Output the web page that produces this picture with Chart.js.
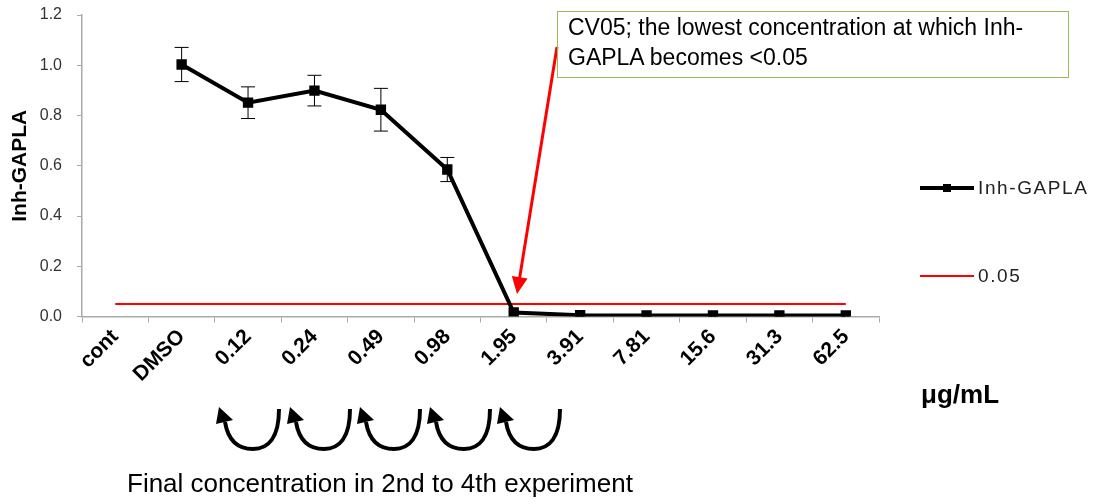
<!DOCTYPE html>
<html>
<head>
<meta charset="utf-8">
<script src="https://cdn.jsdelivr.net/npm/chart.js@4/dist/chart.umd.min.js"></script>
<style>
  html, body { margin: 0; padding: 0; background: #fff; }
  #wrap { position: relative; width: 1093px; height: 504px; font-family: "Liberation Sans", Arial, sans-serif; }
  #chart { position: absolute; left: 0; top: 0; }
  .note { position: absolute; left: 557px; top: 11px; width: 512px; height: 67px; border: 1.5px solid #9bbb59;
          box-sizing: border-box; padding: 0 0 0 10px; font-size: 23px; line-height: 30px; color: #000; }
  .leg { position: absolute; left: 920px; height: 24px; font-size: 19px; color: #222; letter-spacing: 1.6px; }
  .leg .ln { position: absolute; left: 0; top: 11px; width: 54px; }
  .leg .tx { position: absolute; left: 58px; top: 0; white-space: nowrap; line-height: 24px; }
  .unit { position: absolute; left: 921px; top: 379px; font-size: 26px; font-weight: bold; color: #000; }
  .foot { position: absolute; left: 127px; top: 468px; font-size: 26px; color: #000; white-space: nowrap; }
</style>
</head>
<body>
<div id="wrap">
  <canvas id="chart" width="1093" height="504"></canvas>
  <div class="note">CV05; the lowest concentration at which Inh-<br>GAPLA becomes &lt;0.05</div>
  <div class="leg" style="top:176px">
    <span class="ln" style="border-top:4px solid #000;top:10px"></span>
    <span style="position:absolute;left:23px;top:8px;width:8px;height:8px;background:#000"></span>
    <span class="tx">Inh-GAPLA</span>
  </div>
  <div class="leg" style="top:264px">
    <span class="ln" style="border-top:2px solid #ff0000"></span>
    <span class="tx">0.05</span>
  </div>
  <div class="unit">μg/mL</div>
  <div class="foot">Final concentration in 2nd to 4th experiment</div>
</div>
<script>
"use strict";

const CATEGORIES = ["cont", "DMSO", "0.12", "0.24", "0.49", "0.98", "1.95", "3.91", "7.81", "15.6", "31.3", "62.5"];
const INH_GAPLA  = [null, 1.003, 0.851, 0.899, 0.823, 0.585, 0.016, 0.005, 0.004, 0.004, 0.004, 0.004];
const INH_ERR    = [null, 0.068, 0.063, 0.061, 0.085, 0.048, 0, 0, 0, 0, 0, 0];
const CUTOFF     = [0.05, 0.05, 0.05, 0.05, 0.05, 0.05, 0.05, 0.05, 0.05, 0.05, 0.05, 0.05];
const Y_TICKS    = [0, 0.2, 0.4, 0.6, 0.8, 1.0, 1.2];

// error bars for the Inh-GAPLA series, drawn through the scales
const errorBars = {
  id: "errorBars",
  afterDatasetsDraw(chart) {
    const { ctx, scales: { x, y } } = chart;
    ctx.save();
    ctx.strokeStyle = "#000";
    ctx.lineWidth = 1;
    INH_ERR.forEach((e, i) => {
      const v = INH_GAPLA[i];
      if (v == null || !e) return;
      const px = x.getPixelForValue(i);
      const top = y.getPixelForValue(v + e);
      const bot = y.getPixelForValue(v - e);
      ctx.beginPath();
      ctx.moveTo(px, top); ctx.lineTo(px, bot);
      ctx.moveTo(px - 7, top); ctx.lineTo(px + 7, top);
      ctx.moveTo(px - 7, bot); ctx.lineTo(px + 7, bot);
      ctx.stroke();
    });
    ctx.restore();
  },
};

// decorative arrows (callout arrow and the dilution arrows under the axis)
const arrows = {
  id: "arrows",
  afterDraw(chart) {
    const ctx = chart.ctx;
    ctx.save();
    // red callout arrow
    const x0 = 557, y0 = 47, x1 = 517, y1 = 294;
    const ang = Math.atan2(y1 - y0, x1 - x0);
    ctx.strokeStyle = "#ff0000";
    ctx.fillStyle = "#ff0000";
    ctx.lineWidth = 3;
    ctx.beginPath();
    ctx.moveTo(x0, y0);
    ctx.lineTo(x1 - 12 * Math.cos(ang), y1 - 12 * Math.sin(ang));
    ctx.stroke();
    ctx.beginPath();
    ctx.moveTo(x1, y1);
    ctx.lineTo(x1 - 17 * Math.cos(ang) + 8 * Math.sin(ang), y1 - 17 * Math.sin(ang) - 8 * Math.cos(ang));
    ctx.lineTo(x1 - 17 * Math.cos(ang) - 8 * Math.sin(ang), y1 - 17 * Math.sin(ang) + 8 * Math.cos(ang));
    ctx.closePath();
    ctx.fill();

    // black U arrows
    ctx.strokeStyle = "#000";
    ctx.fillStyle = "#000";
    ctx.lineWidth = 4;
    [216, 287, 357, 427, 497].forEach(L => {
      ctx.beginPath();
      ctx.moveTo(L + 63, 409);
      ctx.bezierCurveTo(L + 63, 438, L + 52, 449, L + 37, 449);
      ctx.bezierCurveTo(L + 22, 449, L + 12, 440, L + 9, 422);
      ctx.stroke();
      ctx.beginPath();
      ctx.moveTo(L + 3, 407);
      ctx.lineTo(L + 0, 424);
      ctx.lineTo(L + 17, 420);
      ctx.closePath();
      ctx.fill();
    });
    ctx.restore();
  },
};

new Chart(document.getElementById("chart"), {
  type: "line",
  data: {
    labels: CATEGORIES,
    datasets: [
      {
        label: "Inh-GAPLA",
        data: INH_GAPLA,
        borderColor: "#000",
        backgroundColor: "#000",
        borderWidth: 4,
        pointStyle: "rect",
        pointRadius: 4.5,
        pointHoverRadius: 4.5,
        tension: 0,
        spanGaps: false,
        order: 0,
      },
      {
        label: "0.05",
        data: CUTOFF,
        borderColor: "#ff0000",
        borderWidth: 2,
        pointRadius: 0,
        tension: 0,
        order: 1,
      },
    ],
  },
  options: {
    responsive: false,
    animation: false,
    events: [],
    layout: { padding: { top: 15, right: 214, left: 0, bottom: 0 } },
    plugins: { legend: { display: false }, tooltip: { enabled: false } },
    scales: {
      x: {
        offset: true,
        afterFit: (s) => { s.height = 187.5; s.paddingLeft = 0; s.paddingRight = 0; },
        grid: { drawOnChartArea: false, drawTicks: true, tickLength: 6, color: "#aaa", offset: true },
        border: { color: "#aaa", width: 1.5 },
        ticks: {
          color: "#000",
          minRotation: 45,
          maxRotation: 45,
          padding: 2,
          font: { family: "Liberation Sans", size: 21, weight: "bold" },
        },
      },
      y: {
        min: 0,
        max: 1.2,
        afterFit: (s) => { s.width = 82; s.paddingTop = 0; s.paddingBottom = 0; },
        afterBuildTicks: (s) => { s.ticks = Y_TICKS.map(v => ({ value: v })); },
        grid: { drawOnChartArea: false, drawTicks: true, tickLength: 5, color: "#aaa" },
        border: { color: "#aaa", width: 1.5 },
        ticks: {
          color: "#333",
          padding: 15,
          font: { family: "Liberation Sans", size: 16 },
          callback: (v) => v.toFixed(1),
        },
        title: {
          display: true,
          text: "Inh-GAPLA",
          color: "#000",
          padding: { top: 8, bottom: 0 },
          font: { family: "Liberation Sans", size: 21, weight: "bold" },
        },
      },
    },
  },
  plugins: [errorBars, arrows],
});
</script>
</body>
</html>
